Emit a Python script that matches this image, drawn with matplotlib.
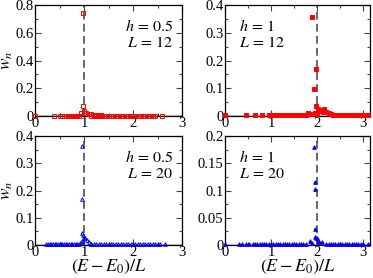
import matplotlib
matplotlib.use("Agg")
import matplotlib.pyplot as plt
from matplotlib.ticker import MultipleLocator, FormatStrFormatter

plt.rcParams["font.family"] = ["Liberation Serif", "DejaVu Serif"]
plt.rcParams["mathtext.fontset"] = "stix"

# ===== DATA =====
# near-zero background weights (x positions typed off the picture)
bg_tl = [0.0, 0.38, 0.5, 0.55, 0.6, 0.63, 0.67, 0.7, 0.73, 0.77, 0.8, 0.83, 0.86, 0.9,
         1.15, 1.2, 1.25, 1.3, 1.35, 1.4, 1.45, 1.5, 1.55, 1.6, 1.65, 1.7, 1.75, 1.8,
         1.85, 1.9, 1.95, 2.0, 2.05, 2.1, 2.15, 2.2, 2.25, 2.3, 2.35, 2.4, 2.45, 2.6]
x_tl = [0.97, 0.97, 0.93, 1.0, 0.99, 1.05, 1.1, 1.15, 1.2, 1.28, 1.35] + bg_tl
w_tl = [0.745, 0.07, 0.025, 0.035, 0.02, 0.02, 0.015, 0.012, 0.01, 0.006, 0.004] + [0.003] * len(bg_tl)

bg_tr = [0.0, 0.45, 0.65, 0.8, 0.95, 1.0, 1.05, 1.1, 1.15, 1.2, 1.25, 1.3, 1.35, 1.4,
         1.45, 1.5, 1.55, 1.6, 1.65, 1.7, 1.75, 2.35, 2.4, 2.45, 2.5, 2.55, 2.6, 2.65,
         2.7, 2.75, 2.8, 2.85, 2.9, 2.95, 3.0, 3.1]
x_tr = [1.9, 1.97, 1.93, 1.97, 2.02, 2.05, 2.08, 2.12, 2.16, 2.2, 2.25, 2.3,
        1.8, 1.85, 1.95, 2.0] + bg_tr
w_tr = [0.355, 0.17, 0.097, 0.035, 0.025, 0.018, 0.02, 0.015, 0.025, 0.015, 0.01, 0.006,
        0.01, 0.006, 0.012, 0.008] + [0.002] * len(bg_tr)

bg_bl = [0.22, 0.27, 0.3, 0.33, 0.36, 0.4, 0.43, 0.46, 0.5, 0.53, 0.56, 0.6, 0.63, 0.66,
         0.7, 0.73, 0.76, 0.8, 0.83, 0.86, 0.9, 1.15, 1.2, 1.25, 1.3, 1.35, 1.4, 1.45,
         1.5, 1.55, 1.6, 1.65, 1.7, 1.75, 1.8, 1.85, 1.9, 1.95, 2.0, 2.05, 2.1, 2.15,
         2.2, 2.25, 2.3, 2.35, 2.4, 2.45, 2.5, 2.55, 2.65]
x_bl = [0.96, 0.96, 0.96, 0.98, 1.0, 1.03, 1.06, 1.1, 0.93, 0.95, 1.15] + bg_bl
w_bl = [0.365, 0.17, 0.045, 0.035, 0.03, 0.025, 0.02, 0.01, 0.01, 0.015, 0.005] + [0.002] * len(bg_bl)

bg_br = [0.0, 0.3, 0.38, 0.45, 0.52, 0.6, 0.65, 0.7, 0.75, 0.8, 0.85, 0.9, 0.95, 1.0,
         1.05, 1.1, 1.15, 1.2, 1.25, 1.3, 1.35, 1.4, 1.45, 1.5, 1.55, 1.6, 1.65, 1.7,
         1.75, 2.2, 2.25, 2.3, 2.35, 2.4, 2.45, 2.5, 2.55, 2.6, 2.65, 2.7, 2.75, 2.8,
         2.85, 2.9, 2.95, 3.0, 3.1]
x_br = [1.93, 1.95, 1.95, 1.96, 1.95, 1.97, 2.0, 2.03, 1.85, 2.1, 1.9, 2.05] + bg_br
w_br = [0.18, 0.115, 0.102, 0.03, 0.015, 0.013, 0.012, 0.01, 0.007, 0.006, 0.004, 0.005] + [0.001] * len(bg_br)

peak_left = 1.0
peak_right = 2.0

# ===== FIGURE =====
fig = plt.figure(figsize=(3.73, 2.78), dpi=100)
W, H = 373, 278


def make_ax(l, t, r, b):
    return fig.add_axes([l / W, 1 - b / H, (r - l) / W, (b - t) / H])


ax_tl = make_ax(35, 5, 182, 116)
ax_tr = make_ax(225, 5, 370, 116)
ax_bl = make_ax(35, 136, 182, 245)
ax_br = make_ax(225, 136, 370, 245)

panels = [
    (ax_tl, x_tl, w_tl, "red", "s", "none", 0.8, 0.2, peak_left, 3.0, r"$h\,=\,0.5$" "\n" r"$L\,=\,12$", 0.94, "right"),
    (ax_tr, x_tr, w_tr, "red", "s", "red", 0.4, 0.1, peak_right, 3.15, r"$h\,=\,1$" "\n" r"$L\,=\,12$", 0.1, "left"),
    (ax_bl, x_bl, w_bl, "blue", "^", "none", 0.4, 0.1, peak_left, 3.0, r"$h\,=\,0.5$" "\n" r"$L\,=\,20$", 0.94, "right"),
    (ax_br, x_br, w_br, "blue", "^", "blue", 0.2, 0.05, peak_right, 3.15, r"$h\,=\,1$" "\n" r"$L\,=\,20$", 0.1, "left"),
]

for ax, xs, ws, col, mk, fc, ymax, ystep, peak, xmax, label, lx, ha in panels:
    ax.axvline(peak, color="#666666", ls=(0, (4, 2.2)), lw=1.4, zorder=1)
    ax.axhline(0, color="black", lw=1, zorder=2)
    ax.plot(xs, ws, ls="none", marker=mk, ms=2.6, mec=col, mfc=fc, mew=0.7, zorder=3, clip_on=False)
    ax.set_xlim(0, xmax)
    ax.set_ylim(0, ymax)
    ax.xaxis.set_major_locator(MultipleLocator(1))
    ax.xaxis.set_minor_locator(MultipleLocator(0.5))
    ax.yaxis.set_major_locator(MultipleLocator(ystep))
    ax.yaxis.set_minor_locator(MultipleLocator(ystep / 2))
    ax.yaxis.set_major_formatter(FormatStrFormatter("%g"))
    ax.tick_params(which="both", direction="in", top=True, right=True, labelsize=10.5, pad=1)
    ax.tick_params(which="major", length=4, width=0.8, color="#444444")
    ax.tick_params(which="minor", length=2, width=0.8, color="#444444")
    for s in ax.spines.values():
        s.set_linewidth(0.9)
    ax.text(lx, 0.87, label, transform=ax.transAxes, ha=ha, va="top", fontsize=11.5, linespacing=0.95)

for ax in (ax_tl, ax_bl):
    ax.set_ylabel(r"$w_n$", fontsize=12.5)
    ax.yaxis.set_label_coords(-0.135, 0.5)
ax_bl.set_xlabel(r"$(E-E_0)/L$", fontsize=13, labelpad=-1)
ax_br.set_xlabel(r"$(E-E_0)/L$", fontsize=13, labelpad=-1)

fig.savefig("out.png", dpi=100)
